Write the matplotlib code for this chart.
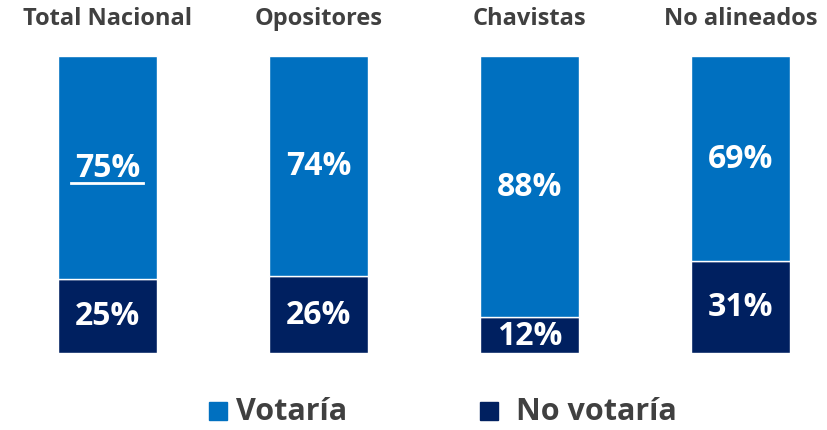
import matplotlib.pyplot as plt
from matplotlib.lines import Line2D
from matplotlib.patches import Rectangle

plt.rcParams['font.family'] = ['Open Sans', 'DejaVu Sans']

groups = ['Total Nacional', 'Opositores', 'Chavistas', 'No alineados']
votaria = [75, 74, 88, 69]
no_votaria = [25, 26, 12, 31]
series_names = ['Votaría', 'No votaría']

c_top = '#0070C0'
c_bot = '#002060'
txt_gray = '#404040'

W, H = 828, 431
fig = plt.figure(figsize=(W / 100, H / 100), dpi=100)
ax = fig.add_axes([0, 0.1787, 1, 0.689])
x = range(len(groups))

ax.bar(x, no_votaria, width=0.47, color=c_bot, edgecolor='white', linewidth=1)
ax.bar(x, votaria, bottom=no_votaria, width=0.47, color=c_top, edgecolor='white', linewidth=1)
ax.set_xlim(-0.509, 3.415)
ax.set_ylim(0, 100)
ax.axis('off')

labels = []
for i, (v, n) in enumerate(zip(votaria, no_votaria)):
    t = ax.text(i, n + v / 2, f'{v}%', ha='center', va='center', color='white',
                fontsize=23, fontweight='bold')
    labels.append(t)
    ax.text(i, n / 2, f'{n}%', ha='center', va='center', color='white',
            fontsize=23, fontweight='bold')
    ax.text(i, 1.127, groups[i], ha='center', va='center', color=txt_gray,
            fontsize=17, fontweight='bold', transform=ax.get_xaxis_transform())

# underline the national total
fig.canvas.draw()
bb = labels[0].get_window_extent().transformed(fig.transFigure.inverted())
y_ul = bb.y0 + 1 / H
fig.add_artist(Line2D([bb.x0 - 0.004, bb.x1 + 0.004], [y_ul, y_ul],
                      color='white', linewidth=2, transform=fig.transFigure))

# legend drawn by hand
leg_y = 0.044
sq = 18
for name, col, x_sq, x_txt in [(series_names[0], c_top, 209, 236),
                               (series_names[1], c_bot, 480, 516)]:
    fig.add_artist(Rectangle((x_sq / W, leg_y - sq / 2 / H), sq / W, sq / H,
                             color=col, transform=fig.transFigure))
    fig.text(x_txt / W, leg_y, name, ha='left', va='center', color=txt_gray,
             fontsize=22, fontweight='bold')

fig.savefig('out.png', dpi=100)
